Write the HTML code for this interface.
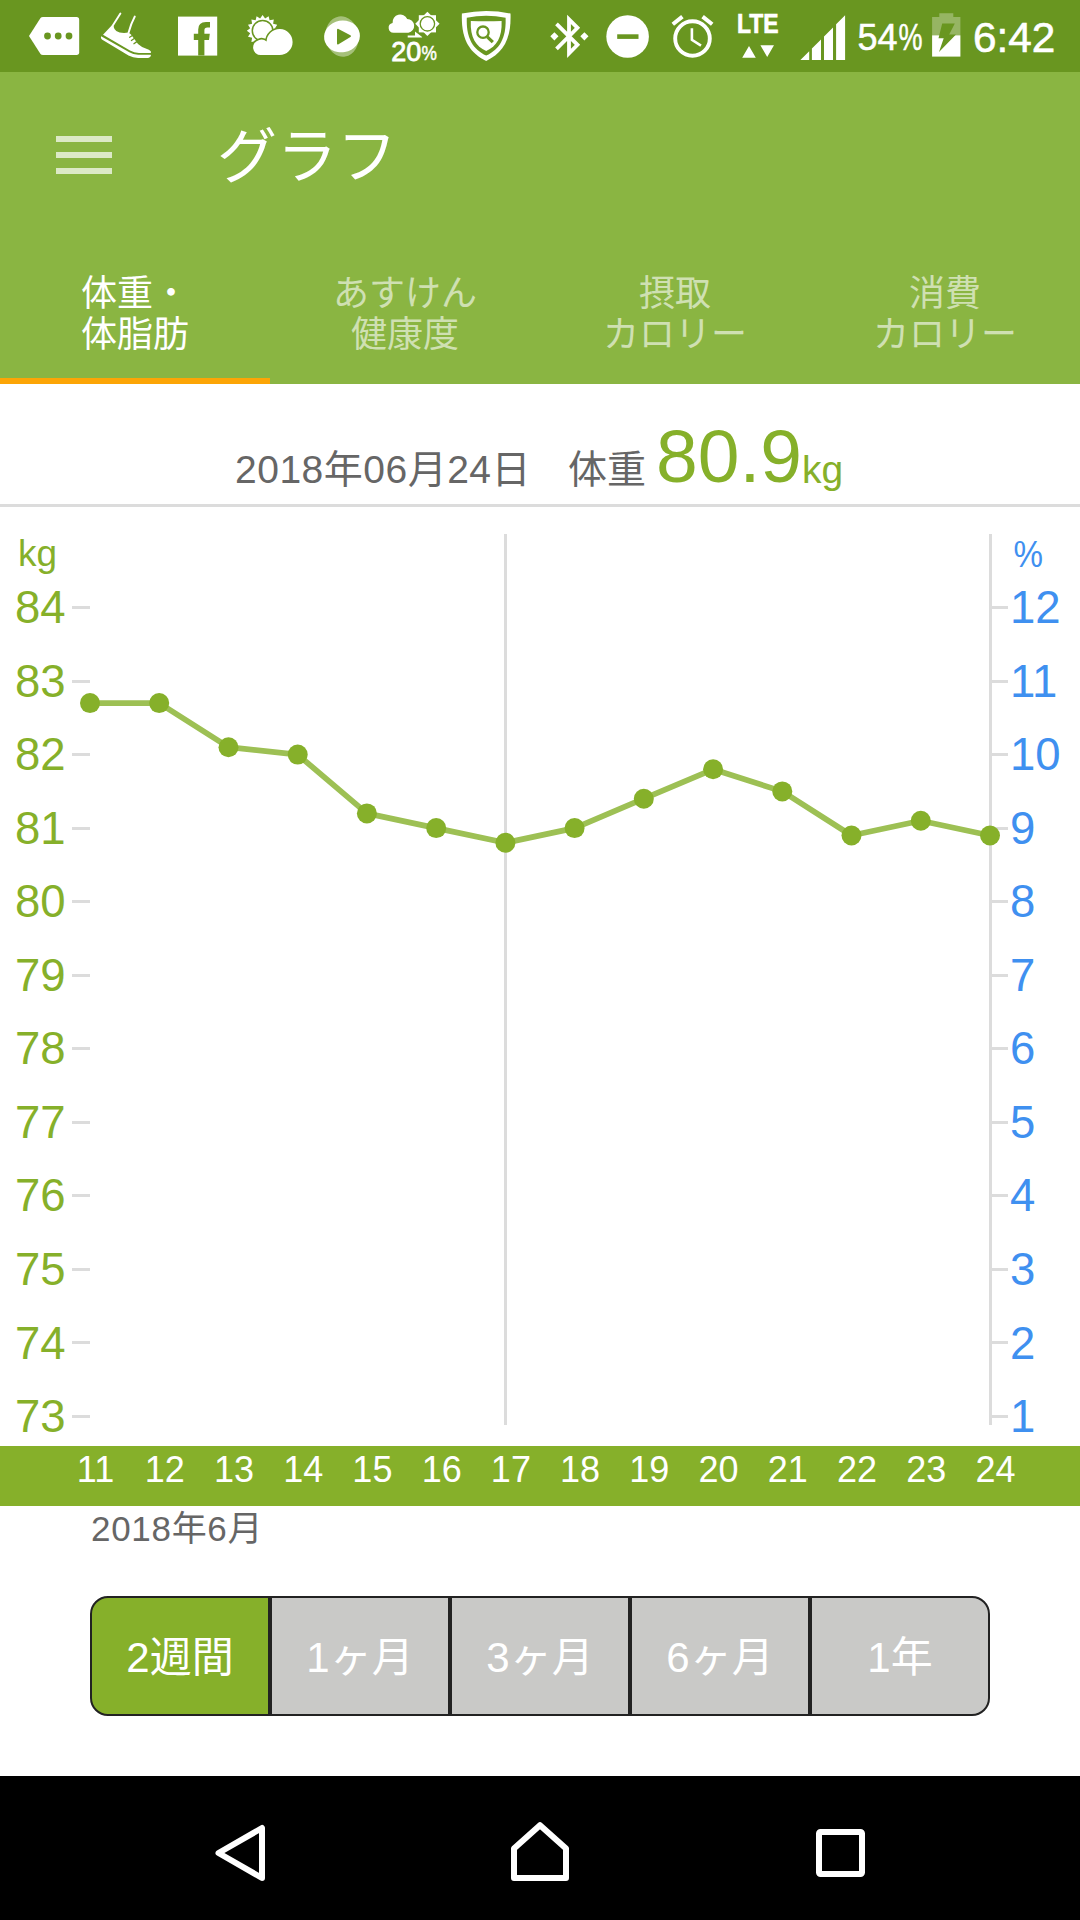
<!DOCTYPE html>
<html lang="ja">
<head>
<meta charset="utf-8">
<title>グラフ</title>
<style>
html,body{margin:0;padding:0;}
body{width:1080px;height:1920px;position:relative;overflow:hidden;background:#fff;
  font-family:"Liberation Sans","Noto Sans CJK JP",sans-serif;color:#666;}
.abs{position:absolute;white-space:nowrap;line-height:1;}
#statusbar{position:absolute;left:0;top:0;width:1080px;height:72px;background:#699620;}
#appbar{position:absolute;left:0;top:72px;width:1080px;height:312px;background:#8ab542;}
#burger{position:absolute;left:56px;top:64px;width:56px;height:38px;}
#burger i{position:absolute;left:0;width:56px;height:6px;background:#dce9c6;}
#title{left:217px;top:56px;font-size:60px;color:#fff;}
.tab{position:absolute;top:168px;width:270px;height:144px;text-align:center;font-size:36px;line-height:41px;color:rgba(255,255,255,.6);}
.tab span{display:block;position:relative;top:33px;}
.tab.on{color:#fff;}
#indicator{position:absolute;left:0;top:306px;width:270px;height:6px;background:#fca506;}
#summary{position:absolute;left:0;top:384px;width:1080px;height:120px;}
#sep{position:absolute;left:0;top:504px;width:1080px;height:3px;background:#dcdcdc;}
#chart{position:absolute;left:0;top:507px;width:1080px;height:939px;}
#chart svg{position:absolute;left:0;top:0;}
.yl{font-size:45.5px;fill:#86b02a;}
.yr{font-size:45.5px;fill:#3f90f0;}
#xbar{position:absolute;left:0;top:1446px;width:1080px;height:60px;background:#86b02a;color:#fff;font-size:36px;}
#xbar span{position:absolute;top:6px;width:80px;text-align:center;line-height:1;}
#month{left:91px;top:1511px;font-size:35px;color:#666;letter-spacing:.7px;}
#period{position:absolute;left:90px;top:1596px;width:900px;height:120px;}
#period div{position:absolute;top:0;width:180px;height:120px;box-sizing:border-box;border:2px solid #222;background:#c9c9c7;color:#fff;
  font-size:42px;text-align:center;line-height:120px;}
#period div.on{background:#86b02a;}
#period div:first-child{border-radius:18px 0 0 18px;}
#period div:last-child{border-radius:0 18px 18px 0;}
#navbar{position:absolute;left:0;top:1776px;width:1080px;height:144px;background:#000;}
</style>
</head>
<body>
<div id="statusbar"><svg width="1080" height="72" viewBox="0 0 1080 72" style="position:absolute;left:0;top:0" font-family='"Liberation Sans","Noto Sans CJK JP",sans-serif' fill="#fff">
<path d="M29 36 L40.5 18 Q41.3 17 43 17 H76.5 Q79.2 17 79.2 19.7 V52.2 Q79.2 54.9 76.5 54.9 H43 Q41.3 54.9 40.5 53.9 Z"/>
<circle cx="47.5" cy="36" r="3.4" fill="#699620"/>
<circle cx="58.2" cy="36" r="3.4" fill="#699620"/>
<circle cx="69" cy="36" r="3.4" fill="#699620"/>
<path d="M111.9 25.2 L103 34.8 L130 50.4 Q134 52.5 138.9 53 L150.7 53 Q151.5 52 150.5 51 Q149 49.5 147 49 Q141 47 138 44 L131 34.5 L128.5 32.6 Q124 33.2 119.6 32.6 Q116 31.8 114.5 29 Q113.5 27 113.7 25.9 Z"/>
<path d="M101.1 36.3 L129.3 52.2 Q133 54.3 138.1 54.8 L150.7 54.8 Q151.3 55.5 150.5 56.5 Q149.5 57.7 148 57.9 L138.1 58.1 Q133 57.8 128.5 55.6 L101.9 39.6 Q100.3 38.3 101.1 36.3 Z"/>
<path d="M120.4 13.5 L112.8 25.6 M134.8 16.5 Q131 23.5 128.6 32.6" fill="none" stroke="#fff" stroke-width="1.9" stroke-linecap="round"/>
<path d="M129.6 37.2 L132.8 35.2 M131.4 40.5 L134.6 38.3 M133.9 43.7 L136.5 41.9" fill="none" stroke="#699620" stroke-width="1.3" stroke-linecap="round"/>
<rect x="178" y="16.6" width="39.2" height="39"/>
<path fill="#699620" d="M198.2 55.6 V40 H193.8 V33.8 H198.2 V29.5 Q198.2 21.9 206 21.9 H210 V27.6 H207.3 Q204.4 27.6 204.4 30.2 V33.8 H209.8 L209 40 H204.4 V55.6 Z"/>
<polygon points="262.6,15.0 265.1,18.4 268.6,16.2 269.6,20.3 273.8,19.6 273.1,23.8 277.2,24.8 275.0,28.3 278.4,30.8 275.0,33.3 277.2,36.8 273.1,37.8 273.8,42.0 269.6,41.3 268.6,45.4 265.1,43.2 262.6,46.6 260.1,43.2 256.6,45.4 255.6,41.3 251.4,42.0 252.1,37.8 248.0,36.8 250.2,33.3 246.8,30.8 250.2,28.3 248.0,24.8 252.1,23.8 251.4,19.6 255.6,20.3 256.6,16.2 260.1,18.4"/>
<circle cx="262.6" cy="30.8" r="10.3" fill="none" stroke="#699620" stroke-width="1.5"/>
<path d="M260.7 55.1 A7.6 7.6 0 0 1 258.6 40.2 A7.4 7.4 0 0 1 266.6 41.6 A13 13 0 1 1 279.6 55.1 Z" stroke="#699620" stroke-width="3.2" stroke-linejoin="round"/>
<path d="M260.7 55.1 A7.6 7.6 0 0 1 258.6 40.2 A7.4 7.4 0 0 1 266.6 41.6 A13 13 0 1 1 279.6 55.1 Z"/>
<ellipse cx="342" cy="36.5" rx="16.6" ry="20.3" transform="rotate(-9 342 36.5)" opacity="0.4"/>
<ellipse cx="342" cy="36.4" rx="18" ry="15.9" transform="rotate(-10 342 36.4)"/>
<path d="M338 29.8 L349.9 36.2 L338 43.4 Z" fill="#699620" stroke="#699620" stroke-width="2" stroke-linejoin="round"/>
<path d="M393.6 32.7 A4.95 4.95 0 0 1 392.6 22.9 A7.7 7.7 0 0 1 407.2 18.9 A6.95 6.95 0 0 1 408.4 32.7 Z"/>
<rect x="418.79999999999995" y="15.200000000000001" width="17.2" height="17.2"/>
<rect x="418.79999999999995" y="15.200000000000001" width="17.2" height="17.2" transform="rotate(45 427.4 23.8)"/>
<circle cx="427.4" cy="23.8" r="7.2" fill="none" stroke="#699620" stroke-width="1.3"/>
<path d="M407.7 35.5 H415 V31.6 L422.1 37 V37.5 H407.7 Z"/>
<text x="391.2" y="60.8" font-size="27" stroke="#fff" stroke-width="0.8">20</text>
<text x="421.4" y="60.4" font-size="20.5" stroke="#fff" stroke-width="0.5" textLength="15.4" lengthAdjust="spacingAndGlyphs">%</text>
<path d="M461.9 13.6 Q486.2 8.6 510.5 13.6 C511.5 40.0 502.5 53.0 486.2 61.0 C469.9 53.0 460.9 40.0 461.9 13.6 Z" fill="#fff"/>
<path d="M466.8 17.7 Q486.2 13.6 505.6 17.7 C506.4 38.8 499.2 49.2 486.2 55.6 C473.2 49.2 466.0 38.8 466.8 17.7 Z" fill="#699620"/>
<path d="M470.8 21.0 Q486.2 21.6 501.6 21.0 C502.3 37.8 496.6 46.1 486.2 51.1 C475.8 46.1 470.1 37.8 470.8 21.0 Z" fill="#fff"/>
<circle cx="483" cy="32.2" r="5.7" fill="none" stroke="#699620" stroke-width="2.3"/>
<path d="M487.3 36.8 L492.8 42.2" fill="none" stroke="#699620" stroke-width="3.2"/>
<path d="M556.5 23.8 L577.5 44.8 L569 53.3 V19.3 L577.5 27.8 L556.5 48.8" fill="none" stroke="#fff" stroke-width="3.8" stroke-linejoin="miter" stroke-miterlimit="10"/>
<path d="M554.4 32.2 L558.5 36.3 L554.4 40.4 L550.3 36.3 Z M584.4 32.2 L588.5 36.3 L584.4 40.4 L580.3 36.3 Z"/>
<circle cx="627.6" cy="36.5" r="21.3"/>
<rect x="617.2" y="34.3" width="21.3" height="4.6" fill="#699620"/>
<circle cx="692.5" cy="38.5" r="17.3" fill="none" stroke="#fff" stroke-width="3.9"/>
<path d="M691.9 28.2 V39.9 L701 45.6" fill="none" stroke="#fff" stroke-width="2.6"/>
<path d="M672.8 24.3 L682.4 16.6 M702.6 16.6 L712.2 24.3" fill="none" stroke="#fff" stroke-width="4"/>
<text x="737" y="32.8" font-size="27.3" font-weight="bold" stroke="#fff" stroke-width="0.7" textLength="41.5" lengthAdjust="spacingAndGlyphs">LTE</text>
<path d="M742.2 57.8 L749 45.9 L755.8 57.8 Z M760.4 45.2 H774 L767.2 57.1 Z"/>
<path d="M800.4 60 L809.2 51.2 V60 Z M811.9 48.5 L821 39.4 V60 H811.9 Z M824 36.4 L833 27.4 V60 H824 Z M836.1 24.3 L845.1 15.3 V60 H836.1 Z"/>
<text x="857.5" y="50.3" font-size="36" stroke="#fff" stroke-width="0.5">54</text>
<text x="898.5" y="50.3" font-size="36" stroke="#fff" stroke-width="0.5" textLength="24" lengthAdjust="spacingAndGlyphs">%</text>
<path d="M939.3 13.3 H953.3 V17 H960.4 V35.3 H932.1 V17 H939.3 Z" opacity="0.3"/>
<rect x="932.1" y="35.3" width="28.3" height="21.3"/>
<path d="M942.2 23.4 H954.8 L949.2 34.4 H956 L939 52.1 L943.7 38.2 H938.5 Z" fill="#699620"/>
<text x="973" y="52.1" font-size="42.3" stroke="#fff" stroke-width="0.6">6:42</text>
</svg></div>

<div id="appbar">
  <div id="burger"><i style="top:0"></i><i style="top:16px"></i><i style="top:32px"></i></div>
  <div id="title" class="abs">グラフ</div>
  <div class="tab on" style="left:0"><span>体重・<br>体脂肪</span></div>
  <div class="tab" style="left:270px"><span>あすけん<br>健康度</span></div>
  <div class="tab" style="left:540px"><span>摂取<br>カロリー</span></div>
  <div class="tab" style="left:810px"><span>消費<br>カロリー</span></div>
  <div id="indicator"></div>
</div>

<div id="summary">
  <div class="abs" style="left:235px;top:66px;font-size:39px;color:#666;letter-spacing:.5px;">2018年06月24日</div>
  <div class="abs" style="left:568px;top:66px;font-size:39px;color:#666;">体重</div>
  <div class="abs" style="left:656px;top:35px;font-size:75px;color:#86b02a;">80.9</div>
  <div class="abs" style="left:802px;top:66px;font-size:39px;color:#86b02a;">kg</div>
</div>
<div id="sep"></div>

<div id="chart">
<svg width="1080" height="939" viewBox="0 507 1080 939" font-family='"Liberation Sans","Noto Sans CJK JP",sans-serif'>
  <g id="grid" fill="#dcdcdc">
<rect x="504" y="534" width="3" height="891"/>
<rect x="989" y="534" width="3" height="891"/>
<rect x="72" y="606" width="18" height="3"/>
<rect x="992" y="606" width="16" height="3"/>
<rect x="72" y="680" width="18" height="3"/>
<rect x="992" y="680" width="16" height="3"/>
<rect x="72" y="753" width="18" height="3"/>
<rect x="992" y="753" width="16" height="3"/>
<rect x="72" y="827" width="18" height="3"/>
<rect x="992" y="827" width="16" height="3"/>
<rect x="72" y="900" width="18" height="3"/>
<rect x="992" y="900" width="16" height="3"/>
<rect x="72" y="974" width="18" height="3"/>
<rect x="992" y="974" width="16" height="3"/>
<rect x="72" y="1047" width="18" height="3"/>
<rect x="992" y="1047" width="16" height="3"/>
<rect x="72" y="1121" width="18" height="3"/>
<rect x="992" y="1121" width="16" height="3"/>
<rect x="72" y="1194" width="18" height="3"/>
<rect x="992" y="1194" width="16" height="3"/>
<rect x="72" y="1268" width="18" height="3"/>
<rect x="992" y="1268" width="16" height="3"/>
<rect x="72" y="1341" width="18" height="3"/>
<rect x="992" y="1341" width="16" height="3"/>
<rect x="72" y="1415" width="18" height="3"/>
<rect x="992" y="1415" width="16" height="3"/>
</g>
  <g id="labels">
<text x="18" y="566" font-size="37" fill="#86b02a">kg</text>
<text x="1013.5" y="567" font-size="37" fill="#3f90f0" textLength="29.5" lengthAdjust="spacingAndGlyphs">%</text>
<text class="yl" x="65.5" y="623.0" text-anchor="end">84</text>
<text class="yr" x="1010" y="623.0">12</text>
<text class="yl" x="65.5" y="696.5" text-anchor="end">83</text>
<text class="yr" x="1010" y="696.5">11</text>
<text class="yl" x="65.5" y="770.1" text-anchor="end">82</text>
<text class="yr" x="1010" y="770.1">10</text>
<text class="yl" x="65.5" y="843.6" text-anchor="end">81</text>
<text class="yr" x="1010" y="843.6">9</text>
<text class="yl" x="65.5" y="917.2" text-anchor="end">80</text>
<text class="yr" x="1010" y="917.2">8</text>
<text class="yl" x="65.5" y="990.7" text-anchor="end">79</text>
<text class="yr" x="1010" y="990.7">7</text>
<text class="yl" x="65.5" y="1064.3" text-anchor="end">78</text>
<text class="yr" x="1010" y="1064.3">6</text>
<text class="yl" x="65.5" y="1137.8" text-anchor="end">77</text>
<text class="yr" x="1010" y="1137.8">5</text>
<text class="yl" x="65.5" y="1211.4" text-anchor="end">76</text>
<text class="yr" x="1010" y="1211.4">4</text>
<text class="yl" x="65.5" y="1284.9" text-anchor="end">75</text>
<text class="yr" x="1010" y="1284.9">3</text>
<text class="yl" x="65.5" y="1358.5" text-anchor="end">74</text>
<text class="yr" x="1010" y="1358.5">2</text>
<text class="yl" x="65.5" y="1432.0" text-anchor="end">73</text>
<text class="yr" x="1010" y="1432.0">1</text>
</g>
  <g id="series">
<polyline fill="none" stroke="#9dc054" stroke-width="5.7" stroke-linejoin="round" points="90.0,703.1 159.2,703.1 228.5,747.2 297.7,754.6 366.9,813.4 436.2,828.1 505.4,842.8 574.6,828.1 643.8,798.7 713.1,769.3 782.3,791.4 851.5,835.5 920.8,820.8 990.0,835.5"/>
<circle cx="90.0" cy="703.1" r="10" fill="#86b02a"/>
<circle cx="159.2" cy="703.1" r="10" fill="#86b02a"/>
<circle cx="228.5" cy="747.2" r="10" fill="#86b02a"/>
<circle cx="297.7" cy="754.6" r="10" fill="#86b02a"/>
<circle cx="366.9" cy="813.4" r="10" fill="#86b02a"/>
<circle cx="436.2" cy="828.1" r="10" fill="#86b02a"/>
<circle cx="505.4" cy="842.8" r="10" fill="#86b02a"/>
<circle cx="574.6" cy="828.1" r="10" fill="#86b02a"/>
<circle cx="643.8" cy="798.7" r="10" fill="#86b02a"/>
<circle cx="713.1" cy="769.3" r="10" fill="#86b02a"/>
<circle cx="782.3" cy="791.4" r="10" fill="#86b02a"/>
<circle cx="851.5" cy="835.5" r="10" fill="#86b02a"/>
<circle cx="920.8" cy="820.8" r="10" fill="#86b02a"/>
<circle cx="990.0" cy="835.5" r="10" fill="#86b02a"/>
</g>
</svg>
</div>

<div id="xbar"><span style="left:55.5px">11</span><span style="left:124.7px">12</span><span style="left:194.0px">13</span><span style="left:263.2px">14</span><span style="left:332.4px">15</span><span style="left:401.7px">16</span><span style="left:470.9px">17</span><span style="left:540.1px">18</span><span style="left:609.3px">19</span><span style="left:678.6px">20</span><span style="left:747.8px">21</span><span style="left:817.0px">22</span><span style="left:886.3px">23</span><span style="left:955.5px">24</span></div>
<div id="month" class="abs">2018年6月</div>

<div id="period">
  <div class="on" style="left:0">2週間</div>
  <div style="left:180px">1ヶ月</div>
  <div style="left:360px">3ヶ月</div>
  <div style="left:540px">6ヶ月</div>
  <div style="left:720px">1年</div>
</div>

<div id="navbar">
<svg width="1080" height="144" viewBox="0 1776 1080 144" fill="none" stroke="#fff" stroke-width="6" stroke-linejoin="round">
  <path d="M218.5 1853 L262 1828 L262 1878 Z"/>
  <path d="M514 1878 L514 1848.5 L540 1825.2 L566 1848.5 L566 1878 Z"/>
  <rect x="819" y="1832" width="43" height="42" rx="1.5"/>
</svg>
</div>
</body>
</html>
